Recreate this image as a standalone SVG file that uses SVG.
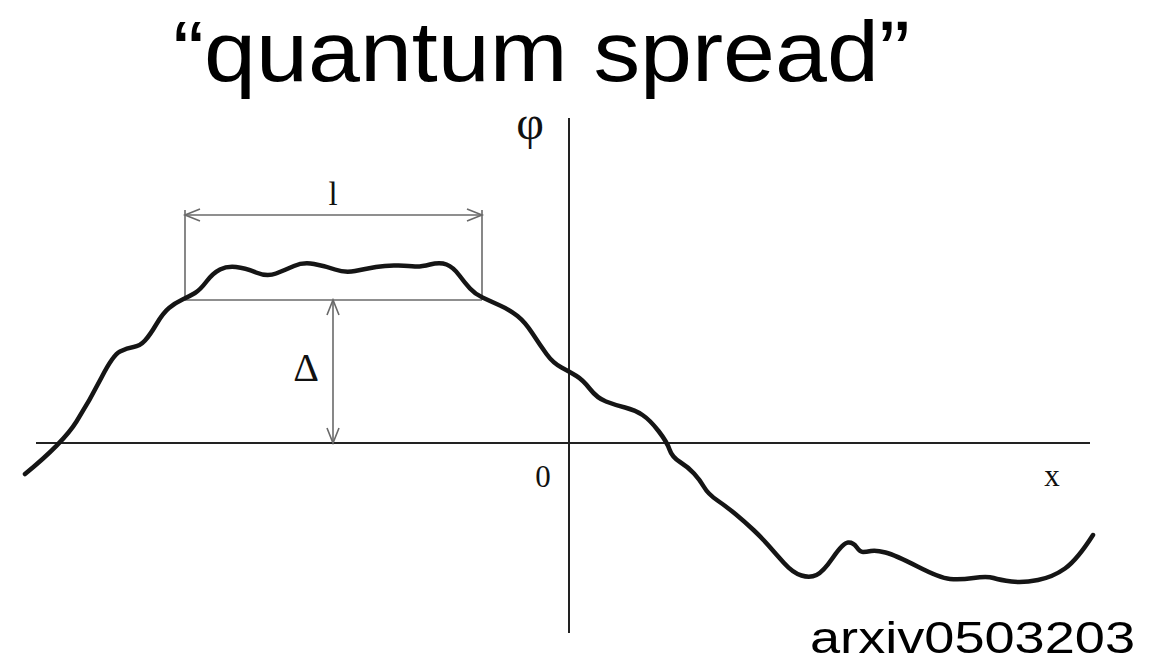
<svg xmlns="http://www.w3.org/2000/svg" width="1170" height="666" viewBox="0 0 1170 666">
<style>
.axis{stroke:#222;stroke-width:2;fill:none}
.dim{stroke:#6a6a6a;stroke-width:1.6;fill:none}
.curve{stroke:#151515;stroke-width:4.5;fill:none;stroke-linecap:round;stroke-linejoin:round}
.serif{font-family:"Liberation Serif","Times New Roman",serif;fill:#111}
.sans{font-family:"Liberation Sans",Arial,sans-serif;fill:#000}
</style>
<rect width="1170" height="666" fill="#fff"/>
<g id="title"><text class="sans" x="173" y="81" font-size="86" textLength="737" lengthAdjust="spacingAndGlyphs">“quantum spread”</text></g>
<g id="axes">
<line class="axis" x1="36" y1="443" x2="1090" y2="443"/>
<line class="axis" x1="569" y1="118" x2="569" y2="633"/>
</g>
<g id="labels">
<text class="serif" x="530" y="139" font-size="48" text-anchor="middle">φ</text>
<text class="serif" x="543" y="487" font-size="31" text-anchor="middle">0</text>
<text class="serif" x="1052" y="486" font-size="31" text-anchor="middle">x</text>
<text class="serif" x="333" y="205" font-size="33" text-anchor="middle">l</text>
<text class="serif" x="306" y="381" font-size="40" text-anchor="middle">Δ</text>
</g>
<g id="connectors">
<line class="dim" x1="185" y1="210" x2="185" y2="300"/>
<line class="dim" x1="482" y1="210" x2="482" y2="300"/>
<line class="dim" x1="185" y1="300" x2="482" y2="300"/>
<line class="dim" x1="185" y1="215" x2="482" y2="215"/>
<path class="dim" d="M200,209 L185,215 L200,221 M467,209 L482,215 L467,221"/>
<line class="dim" x1="333" y1="300" x2="333" y2="443"/>
<path class="dim" d="M327,315 L333,300 L339,315 M327,428 L333,443 L339,428"/>
</g>
<g id="wave">
<path class="curve" d="M25,474 Q63,443 76.5,421.5 Q90,400 101.5,377.5 Q113,355 120,351.5 Q127,348 133.5,347 Q140,346 145,340.5 Q150,335 156.5,324 Q163,313 169,308 Q175,303 182.5,299.5 Q190,296 195,293 Q200,290 206.5,281.5 Q213,273 220,269.5 Q227,266 236,267 Q245,268 256,272.5 Q267,277 276,273.5 Q285,270 294,266 Q303,262 314,264 Q325,266 335,269.5 Q345,273 355,271 Q365,269 376,267 Q387,265 398.5,265.5 Q410,266 415,266.5 Q420,267 430,264.5 Q440,262 446.5,264.5 Q453,267 459,275 Q465,283 470,288.5 Q475,294 482.5,297.5 Q490,301 500,305.5 Q510,310 517.5,316 Q525,322 532.5,333.5 Q540,345 546.5,354 Q553,363 561.5,367.5 Q570,372 576.5,376 Q583,380 590,389 Q597,398 606,401.5 Q615,405 625,407.5 Q635,410 642.5,415 Q650,420 658.5,431 Q667,442 669.5,449.5 Q672,457 680,462 Q688,467 694,473.5 Q700,480 704,487 Q708,494 717.5,500.5 Q727,507 736,514.5 Q745,522 753.5,530 Q762,538 768.5,545.5 Q775,553 784,563 Q793,573 801.5,575.5 Q810,578 816.5,575 Q823,572 833,557.5 Q843,543 848,542.5 Q853,542 856.5,547 Q860,552 863,552 Q866,552 871,551 Q876,550 885.5,552.5 Q895,555 917.5,566.5 Q940,578 950,579 Q960,580 973.5,578 Q987,576 993.5,578 Q1000,580 1011.5,581.5 Q1023,583 1038,580 Q1053,577 1065,568.5 Q1077,560 1093,535"/>
</g>
<g id="credit"><text class="sans" x="810" y="653" font-size="45" textLength="325" lengthAdjust="spacingAndGlyphs">arxiv0503203</text></g>
</svg>
